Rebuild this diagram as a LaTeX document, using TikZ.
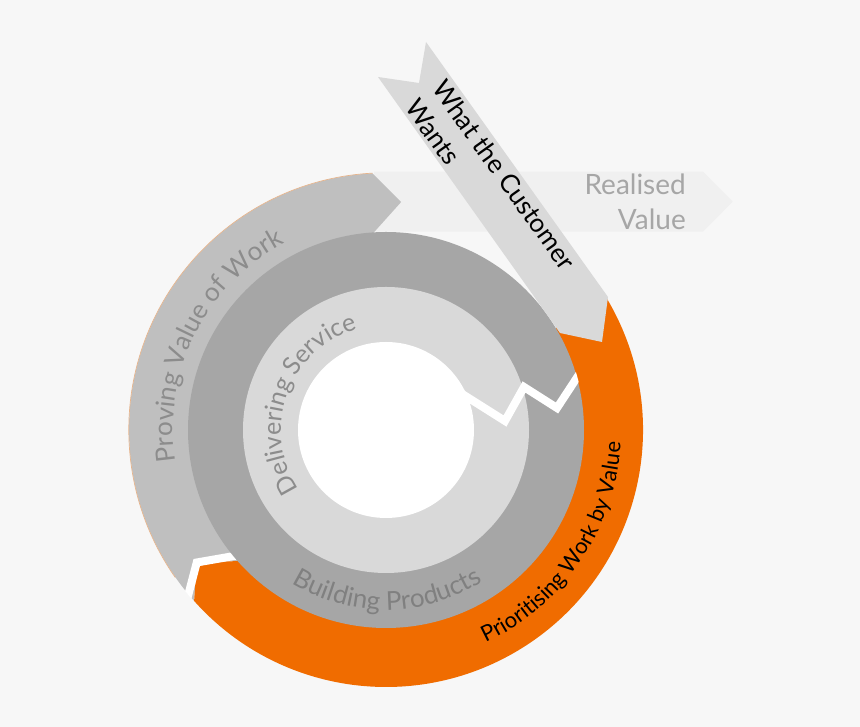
\documentclass[tikz,border=0pt]{standalone}
\usepackage{fontspec}
\setmainfont{Lato}
\usetikzlibrary{decorations.text}
\definecolor{bgc}{HTML}{F7F7F7}
\definecolor{bandc}{HTML}{F0F0F0}
\definecolor{grayA}{HTML}{BFBFBF}
\definecolor{grayB}{HTML}{A6A6A6}
\definecolor{grayC}{HTML}{D9D9D9}
\definecolor{orangeA}{HTML}{F06C00}
\definecolor{fringe}{HTML}{E6B48C}
\definecolor{pvtext}{HTML}{8C8C8C}
\definecolor{dstext}{HTML}{8C8C8C}
\definecolor{bptext}{HTML}{808080}
\definecolor{realc}{HTML}{A6A6A6}
\newcommand\fsBig{\fontsize{26}{33}\selectfont}
\newcommand\fsMid{\fontsize{25}{30}\selectfont}
\newcommand\fsReal{\fontsize{28}{33}\selectfont}
\newcommand\fsSmall{\fontsize{22}{26}\selectfont}
\tikzset{
  gapline/.style={white, line width=8pt, line join=miter},
  arctext/.style={decorate, decoration={text along path, text align=center, text={#1}}}
}
\begin{document}
\begin{tikzpicture}[x=1pt,y=1pt]
\useasboundingbox (0,0) rectangle (860,727);
\fill[bgc] (0,0) rectangle (860,727);
% Realised value band
\fill[bandc] (374,555.3) -- (703,555.3) -- (732.7,525.3) -- (703,495.3) -- (374,495.3) -- cycle;
\begin{scope}[shift={(386,297)}]
  % outer gray: proving value of work
  \fill[grayA] (93:257) arc[start angle=93, end angle=221.7, radius=257]
     -- (215:231) -- (221.7:197)
     arc[start angle=221.7, end angle=93.8, radius=197]
     -- (86.2:228.5) -- cycle;
  \draw[fringe, line width=0.7pt] (93:257.2) arc[start angle=93, end angle=215, radius=257.2];
  % orange: prioritising
  \fill[orangeA] (221.7:257) -- (215:231) -- (221.7:197)
     arc[start angle=221.7, end angle=391, radius=197]
     -- (31:257)
     arc[start angle=31, end angle=-138.3, radius=257] -- cycle;
  \begin{scope}
    \clip (0,0) circle (257.5);
    \draw[gapline] (221.7:270) -- (215:231) -- (221.7:186);
  \end{scope}
  % inner rings
  \fill[grayB] (0,0) circle (198);
  \fill[grayC] (0,0) circle (143);
  \fill[white] (0,0) circle (88);
  \begin{scope}
    \clip (0,0) circle (198.5);
    \draw[gapline] (62,45) -- (119,9) -- (138,43) -- (171,22) -- (192,54) -- (202.5,70);
  \end{scope}
  % curved labels
  \path[arctext={|\fsBig\color{pvtext}|Proving Value of Work}]
     (193.5:213) arc[start angle=193.5, end angle=113.5, radius=213];
  \path[arctext={|\fsMid\color{dstext}|Delivering Service}]
     (220:105) arc[start angle=220, end angle=100, radius=105];
  \path[arctext={|\fsBig\color{bptext}|Building Products}]
     (225.5:180) arc[start angle=225.5, end angle=315.5, radius=180];
  \path[arctext={|\fsSmall\color{black}|Prioritising Work by Value}]
     (-74:235) arc[start angle=-74, end angle=6, radius=235];
\end{scope}
% customer arrow
\fill[grayC] (378,650) -- (419,644) -- (426,685) -- (608,430) -- (602,385) -- (560,394) -- cycle;
\node[rotate=-54.6, anchor=base west, inner sep=0, font=\fsBig, text=black] (want1) at (430.9,639.0) {What the Customer};
\node[rotate=-54.6, anchor=base west, inner sep=0, font=\fsBig, text=black] (want2) at (404.0,619.8) {Wants};
\node[anchor=base east, inner sep=0, font=\fsReal, text=realc] (real1) at (686,532) {Realised};
\node[anchor=base east, inner sep=0, font=\fsReal, text=realc] (real2) at (686,497) {Value};
\end{tikzpicture}
\end{document}
